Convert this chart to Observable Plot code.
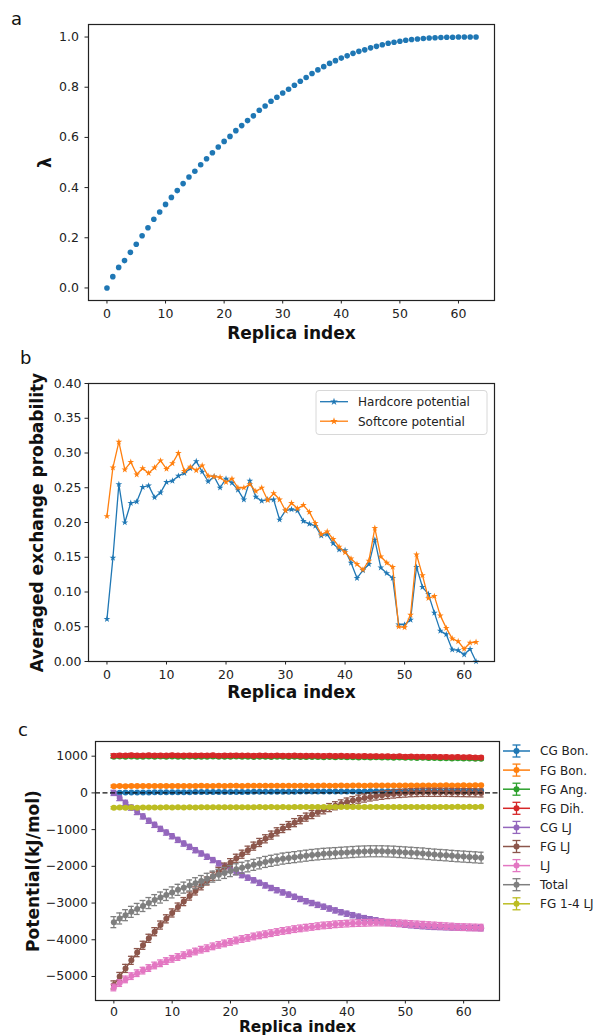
<!DOCTYPE html>
<html><head><meta charset="utf-8">
<script src="https://cdn.jsdelivr.net/npm/d3@7"></script>
<script src="https://cdn.jsdelivr.net/npm/@observablehq/plot@0.6"></script>
<style>
body{margin:0;background:#fff;font-family:"DejaVu Sans",sans-serif;}
#wrap{position:relative;width:597px;height:1036px;overflow:hidden;background:#fff;}
.panel{position:absolute;left:0;}
#overlay{position:absolute;left:0;top:0;pointer-events:none;}
</style></head><body><div id="wrap"></div>
<script>
// ---------- data ----------
const xTicks = [0, 10, 20, 30, 40, 50, 60];

// panel a: lambda per replica (0..63)
const lambdaVals = [
  0.000,0.045,0.082,0.109,0.142,0.174,0.208,0.240,0.274,0.303,
  0.333,0.361,0.388,0.416,0.442,0.465,0.491,0.515,0.539,0.562,
  0.584,0.604,0.627,0.647,0.667,0.686,0.708,0.725,0.744,0.760,
  0.777,0.792,0.808,0.824,0.839,0.855,0.869,0.882,0.895,0.906,
  0.916,0.925,0.935,0.943,0.949,0.957,0.963,0.969,0.975,0.979,
  0.983,0.987,0.990,0.992,0.994,0.996,0.997,0.998,0.999,0.999,
  1.000,1.000,1.000,1.000];
const yTicksA = [0.0, 0.2, 0.4, 0.6, 0.8, 1.0];

// panel b: averaged exchange probability (replica 0..62)
const hardcore = [
  0.061,0.149,0.255,0.200,0.228,0.230,0.251,0.253,0.236,0.243,
  0.258,0.260,0.267,0.271,0.278,0.288,0.273,0.259,0.266,0.250,
  0.263,0.257,0.247,0.233,0.260,0.237,0.231,0.233,0.233,0.204,
  0.217,0.219,0.217,0.202,0.198,0.195,0.181,0.183,0.170,0.161,
  0.160,0.142,0.120,0.131,0.140,0.175,0.135,0.127,0.120,0.053,
  0.053,0.060,0.136,0.107,0.097,0.070,0.044,0.039,0.017,0.016,
  0.010,0.018,0.000];
const softcore = [
  0.209,0.279,0.316,0.276,0.287,0.269,0.278,0.271,0.279,0.289,
  0.277,0.285,0.300,0.274,0.280,0.275,0.282,0.267,0.266,0.265,
  0.258,0.263,0.250,0.250,0.255,0.245,0.250,0.232,0.242,0.233,
  0.217,0.228,0.220,0.225,0.215,0.199,0.183,0.187,0.176,0.165,
  0.157,0.148,0.140,0.132,0.145,0.192,0.151,0.142,0.136,0.050,
  0.049,0.067,0.154,0.124,0.091,0.094,0.066,0.048,0.033,0.029,
  0.018,0.027,0.028];
const seriesNamesB = ["Hardcore potential", "Softcore potential"];
const yTicksB = [0.00,0.05,0.10,0.15,0.20,0.25,0.30,0.35,0.40];

// panel c: potential components (kJ/mol), replica 0..63
const cgBon = [
  0,5,8,10,12,13,14,15,16,17, 18,19,20,21,22,22,23,24,25,25,
  26,27,28,28,29,30,31,31,32,33, 33,34,35,35,36,37,37,38,38,39,
  40,40,41,41,42,42,43,43,44,44, 45,45,46,46,47,47,48,48,49,49,
  50,50,51,51];
const fgBon = [
  182,186,184,188,185,187,189,186,190,188, 187,191,189,190,188,192,190,191,193,190,
  192,194,191,193,195,192,194,196,193,195, 197,194,196,198,195,197,199,196,198,200,
  197,199,201,198,200,202,199,201,203,200, 202,204,201,203,205,202,204,206,203,205,
  207,204,206,208];
const fgAng = [
  985,990,988,993,987,985,991,986,989,983, 992,987,984,990,985,988,986,991,982,987,
  985,990,983,986,981,987,984,980,985,982, 978,983,979,976,981,977,974,979,972,976,
  970,974,967,971,965,968,962,965,959,962, 955,958,952,955,948,951,944,947,940,943,
  936,939,932,929];
const fgDih = [
  1015,1022,1018,1025,1020,1017,1023,1019,1021,1016, 1024,1020,1018,1022,1017,1021,1019,1023,1015,1020,
  1018,1022,1016,1019,1014,1020,1017,1013,1018,1015, 1011,1016,1012,1009,1014,1010,1007,1012,1005,1009,
  1003,1007,1000,1004,998,1001,995,998,992,995, 988,991,985,988,981,984,977,980,973,976,
  969,972,965,962];
const cgLJ = [
  0,-140,-270,-400,-520,-640,-760,-870,-980,-1080,
  -1180,-1280,-1380,-1470,-1560,-1650,-1740,-1830,-1920,-2000,
  -2080,-2160,-2240,-2310,-2380,-2450,-2520,-2590,-2650,-2710,
  -2770,-2830,-2890,-2950,-3000,-3050,-3100,-3150,-3200,-3250,
  -3290,-3330,-3370,-3410,-3440,-3470,-3500,-3530,-3550,-3570,
  -3590,-3605,-3620,-3630,-3640,-3650,-3655,-3660,-3665,-3670,
  -3675,-3680,-3680,-3685];
const fgLJ = [
  -5230,-5000,-4780,-4560,-4350,-4150,-3960,-3780,-3600,-3430,
  -3270,-3110,-2960,-2810,-2670,-2530,-2400,-2270,-2140,-2020,
  -1900,-1780,-1670,-1560,-1450,-1350,-1250,-1150,-1060,-970,
  -890,-810,-730,-660,-590,-520,-460,-400,-350,-300,
  -250,-210,-170,-140,-110,-85,-65,-45,-30,-15,
  -5,5,10,15,15,15,15,15,12,10,
  8,5,3,0];
const lj = [
  -5300,-5180,-5080,-4990,-4910,-4840,-4770,-4700,-4640,-4580,
  -4520,-4470,-4420,-4370,-4320,-4270,-4230,-4180,-4140,-4100,
  -4060,-4020,-3980,-3950,-3910,-3880,-3850,-3820,-3790,-3760,
  -3740,-3710,-3690,-3670,-3650,-3630,-3610,-3600,-3580,-3570,
  -3560,-3550,-3545,-3540,-3535,-3530,-3530,-3535,-3540,-3550,
  -3560,-3570,-3580,-3590,-3600,-3610,-3620,-3630,-3640,-3650,
  -3655,-3660,-3665,-3670];
const total = [
  -3520,-3420,-3330,-3240,-3160,-3080,-3000,-2920,-2850,-2780,
  -2710,-2640,-2580,-2520,-2460,-2400,-2340,-2280,-2230,-2180,
  -2130,-2080,-2040,-2000,-1960,-1920,-1880,-1850,-1820,-1790,
  -1770,-1750,-1730,-1710,-1690,-1675,-1660,-1650,-1640,-1630,
  -1620,-1610,-1600,-1595,-1590,-1590,-1590,-1595,-1600,-1610,
  -1620,-1630,-1640,-1650,-1665,-1680,-1690,-1700,-1715,-1725,
  -1735,-1745,-1755,-1765];
const fg14LJ = [
  -405,-400,-403,-398,-401,-396,-399,-395,-398,-394,
  -397,-393,-396,-392,-395,-391,-394,-390,-393,-390,
  -392,-389,-391,-388,-390,-387,-389,-387,-389,-386,
  -388,-385,-387,-385,-387,-384,-386,-384,-386,-383,
  -385,-383,-385,-383,-384,-382,-384,-382,-384,-382,
  -383,-381,-383,-381,-383,-381,-382,-381,-382,-380,
  -382,-380,-381,-380];
const seriesNamesC = ["CG Bon.","FG Bon.","FG Ang.","FG Dih.","CG LJ","FG LJ","LJ","Total","FG 1-4 LJ"];
const seriesValsC = [cgBon, fgBon, fgAng, fgDih, cgLJ, fgLJ, lj, total, fg14LJ];
const seriesErrC = [20, 30, 40, 50, 70, 110, 90, 150, 30];
const yTicksC = [-5000,-4000,-3000,-2000,-1000,0,1000];

// styles
const palette = ["#1f77b4","#ff7f0e","#2ca02c","#d62728","#9467bd","#8c564b","#e377c2","#7f7f7f","#bcbd22"];
const FONT = "DejaVu Sans";
const wrap = document.getElementById("wrap");

function place(svg, top){
  const d = document.createElement("div");
  d.className = "panel"; d.style.top = top + "px";
  d.appendChild(svg); wrap.appendChild(d);
}
const baseStyle = {fontFamily: FONT, fontSize: "12.5px", color: "#222", background: "transparent", overflow: "visible"};
function axes(yTicks, yFmt, padY, padX){
  return [
    Plot.axisX({ticks: xTicks, tickSize: 3.5, tickPadding: padX, label: null, tickFormat: d => d3.format("d")(d)}),
    Plot.axisY({ticks: yTicks, tickSize: 3.5, tickPadding: padY, label: null, tickFormat: yFmt})
  ];
}
function xLabel(dy, size){
  return Plot.text(["Replica index"], {frameAnchor: "bottom", dy, textAnchor: "middle", lineAnchor: "middle",
    fontWeight: "bold", fontSize: size, fill: "#111"});
}
function yLabel(txt, dx){
  return Plot.text([txt], {frameAnchor: "left", dx, rotate: -90, textAnchor: "middle", lineAnchor: "middle",
    fontWeight: "bold", fontSize: 17, fill: "#111"});
}

// ---------- panel a ----------
const rowsA = lambdaVals.map((v, i) => ({i, v}));
const plotA = Plot.plot({
  width: 597, height: 340, marginLeft: 88, marginRight: 103, marginTop: 24, marginBottom: 40,
  style: baseStyle,
  x: {domain: [-3.15, 66.15], label: null},
  y: {domain: [-0.05, 1.05], label: null},
  marks: [
    ...axes(yTicksA, d => d3.format(".1f")(d), 6, 5),
    Plot.dot(rowsA, {x: "i", y: "v", r: 2.8, fill: palette[0], stroke: "none"}),
    Plot.frame({stroke: "#222", strokeWidth: 1.2}),
    xLabel(33, 17),
    yLabel("λ", -43)
  ]
});
place(plotA, 0);

// ---------- panel b ----------
const rowsB = [hardcore, softcore].map((arr, s) => arr.map((v, i) => ({i, v, s: seriesNamesB[s]})));
const marksB = [];
rowsB.forEach((rows, s) => {
  marksB.push(Plot.line(rows, {x: "i", y: "v", stroke: palette[s], strokeWidth: 1.3}));
  marksB.push(Plot.dot(rows, {x: "i", y: "v", symbol: "star", r: 2.1, fill: palette[s], stroke: "none"}));
});
const plotB = Plot.plot({
  width: 597, height: 360, marginLeft: 88, marginRight: 103, marginTop: 43, marginBottom: 39,
  style: baseStyle,
  x: {domain: [-3.1, 65.1], label: null},
  y: {domain: [0, 0.4], label: null},
  marks: [
    ...axes(yTicksB, d => d3.format(".2f")(d), 3.5, 5),
    ...marksB,
    Plot.frame({stroke: "#222", strokeWidth: 1.2}),
    xLabel(31, 17),
    yLabel("Averaged exchange probability", -51)
  ]
});
place(plotB, 340);

// ---------- panel c ----------
const rowsC = seriesValsC.map((arr, s) => arr.map((v, i) => ({i, v, e: seriesErrC[s], s: seriesNamesC[s]})));
const marksC = [];
rowsC.forEach((rows, s) => {
  const c = palette[s];
  marksC.push(Plot.line(rows, {x: "i", y: "v", stroke: c, strokeWidth: 1.5}));
  marksC.push(Plot.ruleX(rows, {x: "i", y1: d => d.v - d.e, y2: d => d.v + d.e, stroke: c, strokeWidth: 1.3}));
  marksC.push(Plot.ruleY(rows, {y: d => d.v - d.e, x1: d => d.i - 0.5, x2: d => d.i + 0.5, stroke: c, strokeWidth: 1.3}));
  marksC.push(Plot.ruleY(rows, {y: d => d.v + d.e, x1: d => d.i - 0.5, x2: d => d.i + 0.5, stroke: c, strokeWidth: 1.3}));
  marksC.push(Plot.dot(rows, {x: "i", y: "v", r: 3, fill: c, stroke: "none"}));
});
const plotC = Plot.plot({
  width: 597, height: 336, marginLeft: 95, marginRight: 98, marginTop: 41, marginBottom: 36,
  style: baseStyle,
  x: {domain: [-3.15, 66.15], label: null},
  y: {domain: [-5654, 1400], label: null},
  marks: [
    ...axes(yTicksC, d => d3.format("d")(d), 4, 3),
    ...marksC,
    Plot.ruleY([0], {stroke: "#111", strokeWidth: 1.2, strokeDasharray: "5,2.5"}),
    Plot.frame({stroke: "#222", strokeWidth: 1.2}),
    xLabel(26.5, 15.5),
    yLabel("Potential(kJ/mol)", -62)
  ]
});
place(plotC, 700);

// ---------- overlay: panel letters and legends ----------
const ns = "http://www.w3.org/2000/svg";
const ov = d3.select(wrap).append("svg").attr("id", "overlay")
  .attr("width", 597).attr("height", 1036).attr("xmlns", ns)
  .style("font-family", FONT);
[["a", 11, 25], ["b", 20, 364], ["c", 18, 736]].forEach(([t, x, y]) =>
  ov.append("text").attr("x", x).attr("y", y).attr("font-size", 18).attr("fill", "#111").text(t));

// legend b
const lb = ov.append("g");
lb.append("rect").attr("x", 316).attr("y", 390.5).attr("width", 171).attr("height", 44)
  .attr("rx", 3).attr("fill", "white").attr("fill-opacity", 0.85).attr("stroke", "#d8d8d8");
const starPath = d3.symbol(d3.symbolStar, 18)();
seriesNamesB.forEach((name, s) => {
  const y = 401.7 + s * 19.5;
  lb.append("line").attr("x1", 320).attr("x2", 348).attr("y1", y).attr("y2", y)
    .attr("stroke", palette[s]).attr("stroke-width", 1.3);
  lb.append("path").attr("d", starPath).attr("transform", `translate(334,${y})`).attr("fill", palette[s]);
  lb.append("text").attr("x", 358).attr("y", y + 4.4).attr("font-size", 12).attr("fill", "#222").text(name);
});

// legend c
const lc = ov.append("g");
seriesNamesC.forEach((name, s) => {
  const y = 751 + s * 19.1, c = palette[s], cx = 516.5;
  lc.append("line").attr("x1", 503).attr("x2", 530).attr("y1", y).attr("y2", y).attr("stroke", c).attr("stroke-width", 1.5);
  lc.append("line").attr("x1", cx).attr("x2", cx).attr("y1", y - 6).attr("y2", y + 6).attr("stroke", c).attr("stroke-width", 1.3);
  lc.append("line").attr("x1", cx - 4).attr("x2", cx + 4).attr("y1", y - 6).attr("y2", y - 6).attr("stroke", c).attr("stroke-width", 1.3);
  lc.append("line").attr("x1", cx - 4).attr("x2", cx + 4).attr("y1", y + 6).attr("y2", y + 6).attr("stroke", c).attr("stroke-width", 1.3);
  lc.append("circle").attr("cx", cx).attr("cy", y).attr("r", 3).attr("fill", c);
  lc.append("text").attr("x", 540).attr("y", y + 4.4).attr("font-size", 12).attr("fill", "#222").text(name);
});
</script></body></html>
